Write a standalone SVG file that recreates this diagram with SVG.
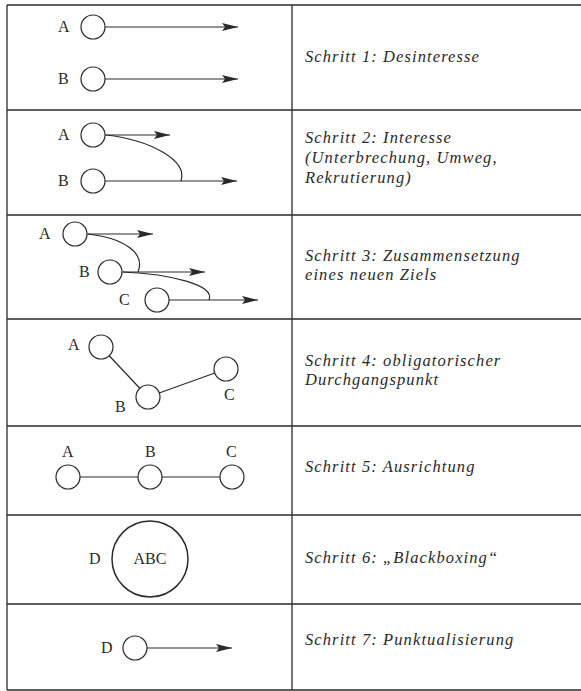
<svg xmlns="http://www.w3.org/2000/svg" width="581" height="691" viewBox="0 0 581 691">
<style>
.grid{stroke:#2a2a2a;stroke-width:1.3;fill:none}
.n{fill:#fff;stroke:#2a2a2a;stroke-width:1.2}
.e{stroke:#2a2a2a;stroke-width:1.2;fill:none}
.lb{font-family:'Liberation Serif','DejaVu Serif',serif;font-size:16px;fill:#2a2a2a}
.st{font-family:'Liberation Serif','DejaVu Serif',serif;font-style:italic;font-size:16.5px;letter-spacing:1.1px;fill:#2a2a2a}
</style>
<defs>
<marker id="ah" viewBox="0 0 16 8" refX="16" refY="4" markerWidth="16" markerHeight="8" markerUnits="userSpaceOnUse" orient="auto">
<path d="M0,0 L16,4 L0,8 L3,4 Z" fill="#2a2a2a"/>
</marker>
</defs>
<rect width="581" height="691" fill="#fff"/>
<g id="table" class="grid">
<line x1="7" y1="5" x2="581" y2="5"/>
<line x1="7" y1="5" x2="7" y2="690"/>
<line x1="292" y1="5" x2="292" y2="690"/>
<line x1="7" y1="110" x2="581" y2="110"/>
<line x1="7" y1="215" x2="581" y2="215"/>
<line x1="7" y1="319" x2="581" y2="319"/>
<line x1="7" y1="426" x2="581" y2="426"/>
<line x1="7" y1="515" x2="581" y2="515"/>
<line x1="7" y1="604" x2="581" y2="604"/>
<line x1="7" y1="690" x2="581" y2="690"/>
</g>
<g id="connectors">
<line class="e" x1="105" y1="27" x2="238" y2="27" marker-end="url(#ah)"/>
<line class="e" x1="105" y1="79" x2="238" y2="79" marker-end="url(#ah)"/>
<line class="e" x1="105" y1="135" x2="170" y2="135" marker-end="url(#ah)"/>
<line class="e" x1="105" y1="181" x2="237" y2="181" marker-end="url(#ah)"/>
<path class="e" d="M106,135 C150,140 188,160 181,181"/>
<line class="e" x1="87" y1="234" x2="153" y2="234" marker-end="url(#ah)"/>
<line class="e" x1="122" y1="272" x2="205" y2="272" marker-end="url(#ah)"/>
<line class="e" x1="169" y1="300" x2="258" y2="300" marker-end="url(#ah)"/>
<path class="e" d="M88,234 C122,238 146,252 138,272"/>
<path class="e" d="M123,272 C170,274 216,285 209,300"/>
<line class="e" x1="101" y1="347" x2="148" y2="397"/>
<line class="e" x1="148" y1="397" x2="226" y2="369"/>
<line class="e" x1="68" y1="477" x2="232" y2="477"/>
<line class="e" x1="147" y1="648" x2="232" y2="648" marker-end="url(#ah)"/>
</g>
<g id="step1">
<text class="lb" x="58" y="32">A</text><circle class="n" cx="93" cy="27" r="12"/>
<text class="lb" x="58" y="84">B</text><circle class="n" cx="93" cy="79" r="12"/>
<text class="st" x="305" y="62">Schritt 1: Desinteresse</text>
</g>
<g id="step2">
<text class="lb" x="58" y="140">A</text><circle class="n" cx="93" cy="135" r="12"/>
<text class="lb" x="58" y="186">B</text><circle class="n" cx="93" cy="181" r="12"/>
<text class="st" x="305" y="143">Schritt 2: Interesse</text>
<text class="st" x="305" y="163">(Unterbrechung, Umweg,</text>
<text class="st" x="305" y="183">Rekrutierung)</text>
</g>
<g id="step3">
<text class="lb" x="39" y="239">A</text><circle class="n" cx="75" cy="234" r="12"/>
<text class="lb" x="79" y="277">B</text><circle class="n" cx="110" cy="272" r="12"/>
<text class="lb" x="119" y="305">C</text><circle class="n" cx="157" cy="300" r="12"/>
<text class="st" x="305" y="261">Schritt 3: Zusammensetzung</text>
<text class="st" x="305" y="280">eines neuen Ziels</text>
</g>
<g id="step4">
<text class="lb" x="68" y="350">A</text><circle class="n" cx="101" cy="347" r="12"/>
<text class="lb" x="115" y="412">B</text><circle class="n" cx="148" cy="397" r="12"/>
<text class="lb" x="224" y="400">C</text><circle class="n" cx="226" cy="369" r="12"/>
<text class="st" x="305" y="366">Schritt 4: obligatorischer</text>
<text class="st" x="305" y="385">Durchgangspunkt</text>
</g>
<g id="step5">
<text class="lb" x="62" y="457">A</text><circle class="n" cx="68" cy="477" r="12"/>
<text class="lb" x="145" y="457">B</text><circle class="n" cx="150" cy="477" r="12"/>
<text class="lb" x="226" y="457">C</text><circle class="n" cx="232" cy="477" r="12"/>
<text class="st" x="305" y="472">Schritt 5: Ausrichtung</text>
</g>
<g id="step6">
<text class="lb" x="89" y="564">D</text>
<circle class="n" cx="150" cy="559" r="38" style="stroke-width:1.5"/>
<text class="lb" x="150" y="564" text-anchor="middle">ABC</text>
<text class="st" x="305" y="563">Schritt 6: „Blackboxing“</text>
</g>
<g id="step7">
<text class="lb" x="101" y="653">D</text><circle class="n" cx="135" cy="648" r="12"/>
<text class="st" x="305" y="645">Schritt 7: Punktualisierung</text>
</g>
</svg>
